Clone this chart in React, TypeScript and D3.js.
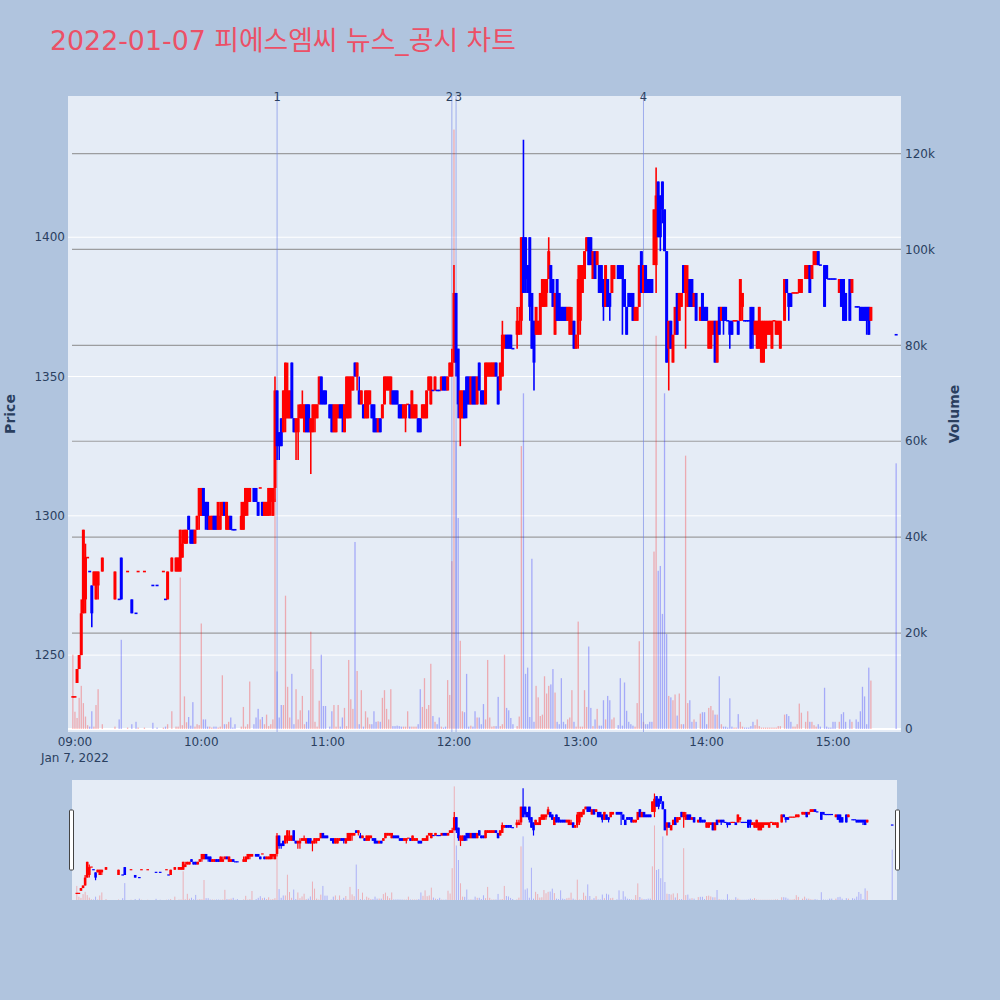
import React from 'react';
import * as d3 from 'd3';

// minute offsets from 09:00 (2022-01-07)
const minutes = [
  -1,0,1,2,3,4,5,6,7,8,9,10,11,13,19,21,22,25,27,29,30,33,37,39,42,43,44,46,48,49,
  50,51,52,53,54,55,56,57,58,59,60,61,62,63,64,65,66,67,68,69,70,71,72,73,74,75,76,79,80,81,
  82,83,85,86,87,88,89,90,91,92,93,94,
  95,96,97,98,99,100,101,102,103,104,105,106,107,108,109,110,111,112,113,114,115,116,117,118,119,
  121,122,123,124,125,126,127,128,129,130,131,132,133,134,135,136,137,138,139,140,
  141,142,143,144,145,146,147,148,149,150,151,152,153,154,155,156,157,158,159,160,
  161,162,163,164,165,166,167,168,169,170,171,172,173,174,175,176,177,178,179,180,
  181,182,183,184,185,186,187,188,189,190,191,192,193,194,195,196,197,198,199,200,
  201,202,203,204,205,206,207,208,
  210,211,212,213,214,215,216,217,218,219,220,221,222,223,224,225,226,227,228,229,
  230,231,232,233,234,235,236,237,238,239,240,241,242,243,244,245,246,247,248,249,
  250,251,252,253,254,255,256,
  258,259,260,261,262,263,264,265,266,267,268,269,270,271,272,273,274,275,276,277,
  278,279,280,281,282,283,284,285,286,287,288,289,290,291,292,293,294,295,
  297,298,299,300,301,302,303,304,305,306,307,308,309,310,311,312,313,314,315,316,
  317,318,319,320,321,322,323,324,325,326,327,328,329,330,331,332,333,334,335,
  337,338,339,340,341,342,343,344,345,
  347,348,349,350,351,352,353,354,
  356,357,358,359,360,361,
  363,364,365,366,
  368,369,
  371,372,373,374,375,376,377,378,
  390,
];

const opens = [
  1235,1235,1240,1245,1250,1265,1270,1285,1280,1275,1275,1270,1275,1280,1270,1270,1285,1280,1270,1265,
  1280,1280,1275,1275,1280,1270,1270,1280,1280,1280,1280,1285,1290,1290,1300,1295,1295,1290,1295,1300,
  1300,1310,1305,1305,1295,1295,1300,1300,1295,1295,1300,1305,1295,1295,1300,1295,1295,1295,1295,1300,
  1305,1305,1310,1310,1305,1310,1305,1300,1300,1300,1305,1300,
  1310,1345,1330,1335,1330,1335,1335,1335,1355,1335,1330,1330,1335,1335,1330,1340,1340,1330,1330,1335,
  1335,1340,1350,1345,1345,
  1340,1340,1330,1330,1335,1340,1340,1330,1335,1335,1345,1345,1355,1350,1345,1340,1340,1335,1335,1340,
  1340,1340,1335,1330,1335,1335,1340,1345,1345,1340,1345,1345,1345,1340,1340,1335,1335,1340,1340,1335,
  1335,1335,1335,1335,1335,1335,1335,1345,1340,1345,1345,1345,1345,1345,1350,1350,1345,1350,1350,1355,
  1380,1360,1335,1335,1345,1350,1350,1340,1350,1350,1340,1355,1345,1345,1340,1350,1350,1350,1350,1355,
  1350,1345,1350,1360,1365,1365,1365,1360,
  1365,1365,1370,1400,1400,1390,1400,1380,1370,1365,1365,1365,1375,1375,1380,1385,1390,1385,1365,1385,
  1380,1375,1375,1375,1370,1365,1365,1370,1360,1365,1370,1380,1385,1395,1400,1400,1385,1395,1390,1390,
  1390,1385,1375,1385,1380,1380,1385,
  1390,1390,1390,1385,1375,1380,1380,1380,1370,1370,1375,1395,1380,1390,1385,1385,1385,1390,1390,1420,
  1415,1420,1410,1395,1360,1370,1355,1365,1380,1370,1375,1390,1380,1375,1385,1385,1375,1380,
  1370,1380,1375,1375,1360,1360,1365,1370,1355,1375,1370,1375,1375,1370,1370,1370,1370,1370,1370,1370,
  1375,1370,1370,1370,1375,1375,1365,1360,1360,1355,1355,1360,1365,1365,1360,1370,1365,1365,1360,
  1370,1385,1380,1380,1380,1380,1380,1380,1380,
  1385,1385,1390,1385,1390,1390,1395,1390,
  1390,1390,1385,1385,1385,1385,
  1380,1385,1385,1380,
  1385,1380,
  1375,1375,1375,1375,1375,1375,1375,1370,
  1365,
];

const highs = [
  1235,1235,1245,1250,1270,1295,1290,1285,1280,1275,1280,1280,1280,1285,1280,1270,1285,1280,1270,1265,
  1280,1280,1275,1275,1280,1270,1280,1285,1285,1285,1295,1295,1295,1295,1300,1295,1295,1295,1300,1310,
  1310,1310,1305,1305,1300,1300,1300,1300,1305,1305,1305,1305,1305,1300,1300,1295,1295,1305,1305,1310,
  1310,1310,1310,1310,1305,1310,1305,1305,1305,1310,1310,1310,
  1350,1345,1330,1335,1345,1355,1355,1345,1355,1335,1335,1340,1340,1345,1340,1340,1340,1335,1340,1340,
  1340,1350,1350,1345,1345,
  1340,1340,1340,1340,1340,1340,1340,1340,1350,1350,1350,1350,1355,1355,1350,1345,1340,1345,1345,1345,
  1340,1340,1335,1335,1335,1340,1350,1350,1350,1350,1345,1345,1345,1340,1340,1340,1340,1340,1340,1345,
  1340,1340,1335,1335,1340,1340,1345,1350,1350,1345,1350,1345,1345,1350,1350,1350,1350,1355,1360,1390,
  1380,1360,1345,1345,1345,1350,1350,1350,1350,1350,1350,1355,1345,1345,1355,1355,1355,1355,1355,1355,
  1350,1355,1370,1365,1365,1365,1365,1360,
  1375,1375,1400,1435,1400,1390,1400,1380,1370,1375,1370,1380,1385,1385,1385,1400,1390,1385,1380,1385,
  1380,1375,1375,1375,1375,1375,1375,1370,1365,1390,1390,1390,1395,1400,1400,1400,1395,1395,1395,1390,
  1390,1385,1390,1385,1380,1390,1390,
  1390,1390,1390,1385,1375,1380,1380,1380,1375,1375,1390,1395,1390,1390,1385,1385,1385,1410,1425,1420,
  1415,1420,1410,1395,1370,1370,1365,1375,1380,1380,1380,1390,1390,1390,1385,1385,1380,1380,
  1375,1380,1375,1375,1370,1370,1370,1370,1370,1375,1375,1375,1375,1370,1370,1370,1370,1370,1370,1385,
  1380,1370,1370,1370,1375,1375,1370,1370,1375,1370,1370,1370,1370,1370,1370,1370,1370,1370,1370,
  1385,1385,1380,1380,1380,1380,1380,1385,1385,
  1390,1390,1390,1390,1395,1395,1395,1390,
  1390,1390,1385,1385,1385,1385,
  1385,1385,1385,1380,
  1385,1385,
  1375,1375,1375,1375,1375,1375,1375,1375,
  1365,
];

const lows = [
  1235,1235,1240,1245,1250,1265,1265,1285,1280,1260,1275,1270,1270,1280,1270,1270,1270,1280,1265,1265,
  1280,1280,1275,1275,1280,1270,1270,1280,1280,1280,1280,1285,1290,1290,1295,1290,1290,1290,1295,1295,
  1300,1300,1295,1295,1295,1295,1295,1295,1295,1295,1300,1300,1295,1295,1295,1295,1295,1295,1295,1300,
  1300,1305,1305,1305,1300,1310,1300,1300,1300,1300,1300,1300,
  1305,1320,1320,1325,1330,1330,1335,1335,1335,1330,1320,1320,1335,1335,1330,1330,1330,1315,1330,1330,
  1335,1340,1340,1340,1340,
  1335,1330,1330,1330,1335,1335,1330,1330,1335,1335,1335,1345,1350,1345,1340,1340,1335,1335,1335,1340,
  1335,1330,1330,1330,1330,1335,1340,1345,1345,1340,1340,1340,1340,1335,1335,1335,1330,1340,1335,1335,
  1335,1335,1330,1330,1335,1335,1335,1345,1340,1345,1345,1345,1345,1345,1345,1345,1345,1350,1350,1355,
  1350,1335,1325,1335,1335,1335,1340,1340,1340,1340,1340,1345,1340,1340,1340,1350,1350,1350,1350,1350,
  1340,1345,1350,1360,1360,1360,1360,1360,
  1360,1365,1365,1380,1380,1380,1370,1360,1345,1365,1365,1365,1375,1375,1375,1385,1380,1375,1365,1370,
  1370,1370,1370,1370,1370,1365,1365,1360,1360,1360,1365,1380,1385,1395,1390,1390,1385,1385,1390,1380,
  1380,1370,1375,1375,1370,1380,1385,
  1385,1385,1365,1375,1365,1375,1375,1370,1370,1370,1375,1380,1380,1380,1380,1380,1380,1390,1380,1400,
  1395,1405,1395,1355,1345,1360,1355,1365,1365,1370,1375,1380,1360,1375,1375,1375,1375,1370,
  1370,1370,1370,1370,1360,1360,1365,1355,1355,1365,1370,1365,1370,1370,1360,1365,1370,1370,1365,1370,
  1370,1370,1370,1370,1360,1360,1365,1360,1360,1355,1355,1360,1365,1365,1360,1370,1365,1365,1360,
  1370,1380,1370,1375,1380,1380,1380,1380,1380,
  1385,1385,1380,1385,1390,1390,1390,1390,
  1375,1385,1385,1385,1385,1385,
  1380,1375,1370,1370,
  1370,1380,
  1375,1375,1370,1370,1370,1365,1365,1370,
  1365,
];

const closes = [
  1235,1235,1245,1250,1265,1295,1285,1285,1280,1265,1280,1280,1280,1285,1280,1270,1270,1280,1265,1265,
  1280,1280,1275,1275,1280,1270,1280,1285,1285,1285,1295,1290,1295,1295,1295,1290,1290,1295,1300,1310,
  1310,1300,1300,1295,1300,1300,1295,1295,1305,1300,1305,1300,1305,1300,1295,1295,1295,1300,1305,1310,
  1310,1310,1305,1305,1300,1310,1300,1305,1305,1310,1310,1310,
  1345,1325,1325,1325,1345,1355,1345,1345,1335,1330,1335,1335,1340,1340,1340,1330,1330,1335,1340,1340,
  1340,1350,1340,1340,1340,
  1335,1330,1340,1340,1340,1335,1335,1340,1350,1350,1350,1350,1350,1355,1340,1345,1335,1345,1345,1345,
  1335,1330,1330,1335,1330,1340,1350,1350,1350,1350,1340,1340,1340,1335,1335,1340,1340,1340,1335,1345,
  1340,1340,1330,1330,1340,1340,1345,1350,1350,1345,1350,1345,1345,1350,1345,1345,1350,1355,1355,1380,
  1355,1340,1345,1345,1335,1340,1340,1350,1340,1340,1350,1345,1340,1340,1355,1355,1355,1355,1355,1350,
  1340,1355,1365,1365,1360,1360,1360,1360,
  1370,1370,1400,1380,1385,1380,1375,1360,1355,1375,1370,1380,1385,1385,1385,1395,1380,1375,1380,1370,
  1370,1370,1370,1370,1375,1375,1370,1360,1365,1385,1390,1390,1395,1400,1390,1390,1395,1385,1395,1380,
  1380,1375,1390,1375,1375,1390,1390,
  1385,1385,1385,1375,1365,1375,1375,1370,1375,1375,1390,1380,1390,1380,1380,1380,1380,1410,1415,1400,
  1400,1410,1395,1355,1370,1360,1365,1375,1365,1380,1380,1380,1390,1385,1375,1375,1380,1370,
  1375,1370,1370,1370,1370,1370,1370,1355,1370,1365,1375,1370,1370,1370,1365,1365,1370,1370,1365,1385,
  1380,1370,1370,1370,1360,1365,1370,1370,1375,1370,1370,1370,1370,1370,1370,1370,1370,1370,1370,
  1385,1380,1375,1375,1380,1380,1380,1385,1385,
  1390,1390,1380,1390,1395,1395,1390,1390,
  1375,1385,1385,1385,1385,1385,
  1385,1375,1370,1370,
  1370,1385,
  1375,1375,1370,1370,1370,1370,1365,1375,
  1365,
];

const volumes = [
  15500,3600,2300,6500,9000,5400,2600,800,500,3700,500,5000,8300,1000,500,2000,18600,300,1000,1500,
  300,300,1300,300,300,500,1000,3700,500,500,31600,800,6800,1400,2500,700,5600,500,1000,800,
  22000,2000,2000,500,500,300,500,500,300,500,11200,1000,1000,1500,2400,300,1000,500,4600,500,
  1000,9900,1000,2400,4200,2000,2500,1000,3000,600,1000,2000,
  48000,12000,2400,5000,5000,27800,8800,2400,11500,1000,8300,2000,3900,6900,1000,1500,3900,20300,12500,1500,
  500,5900,15500,4800,4800,
  500,3700,5000,500,5000,500,2400,4400,600,14400,6200,4200,39000,12100,1000,8100,500,3700,2400,1000,
  1000,3700,1500,1600,1500,6500,8100,4200,2000,8300,600,600,700,600,500,500,500,3700,500,500,
  500,500,1000,8300,4600,10600,4200,5000,13600,2700,1500,1000,2400,500,300,500,10200,7100,35000,125000,
  60000,44000,18400,3700,3500,11500,500,700,500,3700,2400,2400,1000,5200,2000,14400,2400,500,600,600,
  6700,600,1000,15500,4400,3900,2300,1000,
  600,2600,59000,70000,11500,12800,2500,35500,1500,9000,6600,2700,3000,11000,7400,9000,9300,12500,7600,1500,
  1000,10600,1500,1000,2000,2400,8100,1500,500,22400,500,500,8100,4600,17200,4400,600,2000,4200,700,
  700,6000,2000,6900,6000,2000,2400,
  800,10600,700,9700,3800,1500,1000,700,500,5400,18300,3300,1500,1000,1000,1500,1500,37000,82000,33000,
  34000,24000,70000,19800,6900,6600,6000,7200,2800,7400,1000,1000,57000,5400,6000,1500,2000,1500,
  3200,3500,3500,1000,4400,4800,3900,3000,3000,11000,1000,500,500,300,6400,500,300,300,3100,1500,
  500,300,300,300,600,1500,800,2000,600,300,300,300,300,300,300,300,300,600,600,
  3000,3100,2700,1500,500,500,1000,5300,3400,
  1500,3700,1500,1500,800,500,1000,500,
  8600,500,300,300,1500,1500,
  1500,3100,3500,1500,
  2000,1500,
  2000,1500,3700,8800,6800,1000,12800,10100,
  55400,
];

const priceTicks = [1250, 1300, 1350, 1400];
const volumeTicks = [0, 20000, 40000, 60000, 80000, 100000, 120000];
const timeTickMinutes = [0, 60, 120, 180, 240, 300, 360];
const newsMinutes = [96, 179, 181, 270];
const newsLabels = ['1', '2', '3', '4'];
const titleText = '2022-01-07 피에스엠씨 뉴스_공시 차트';
const dateLabel = 'Jan 7, 2022';

const BASE = new Date(2022, 0, 7, 9, 0, 0).getTime();
const toDate = (m: number) => new Date(BASE + m * 60000);

const UP = '#ff0000';
const DOWN = '#0000ff';
const FONT = '"DejaVu Sans", Verdana, "Noto Sans CJK KR", sans-serif';
const AXIS_COLOR = '#2a3f5f';

// plotly-style direction: compare close/open, fall back to previous close
function directions(): boolean[] {
  const out: boolean[] = [];
  let prevDir = true;
  for (let i = 0; i < closes.length; i++) {
    const o = opens[i], c = closes[i];
    const pc = i > 0 ? closes[i - 1] : c;
    let d: boolean;
    if (c > o) d = true;
    else if (c < o) d = false;
    else if (c > pc) d = true;
    else if (c < pc) d = false;
    else d = prevDir;
    out.push(d);
    prevDir = d;
  }
  return out;
}

export default function App() {
  const L = 68, R = 901, T = 96, B = 732;
  const domain = [toDate(-3.3), toDate(392.3)];
  const x = d3.scaleTime().domain(domain).range([L, R]);
  const yP = d3.scaleLinear().domain([1222.4, 1450.7]).range([B, T]);
  const yV = d3.scaleLinear().domain([0, 132000]).range([729, T]);

  const SL = 72, SR = 897, ST = 780, SB = 900;
  const xs = d3.scaleTime().domain(domain).range([SL, SR]);
  const ysP = d3.scaleLinear().domain([1222.4, 1450.7]).range([SB, ST]);
  const ysV = d3.scaleLinear().domain([0, 132000]).range([SB, ST]);

  const dirs = directions();
  const fmt = d3.timeFormat('%H:%M');
  const idx = d3.range(minutes.length);

  // news label positions: nudge apart labels whose lines are very close
  const newsX = newsMinutes.map(m => x(toDate(m)));
  const labelX = newsX.map((v, k) => {
    const prevClose = k > 0 && v - newsX[k - 1] < 8;
    const nextClose = k < newsX.length - 1 && newsX[k + 1] - v < 8;
    if (nextClose) return { x: v + 1.2, anchor: 'end' };
    if (prevClose) return { x: v - 1.2, anchor: 'start' };
    return { x: v, anchor: 'middle' };
  });

  return (
    <div style={{ position: 'absolute', left: 0, top: 0 }}>
      <svg width={1000} height={1000} style={{ display: 'block', background: '#b0c4de' }}>
        <defs>
          <clipPath id="plotclip"><rect x={L} y={T} width={R - L} height={B - T} /></clipPath>
          <clipPath id="sliderclip"><rect x={SL} y={ST} width={SR - SL} height={SB - ST} /></clipPath>
        </defs>
        <rect x={0} y={0} width={1000} height={1000} fill="#b0c4de" />
        <text x={50} y={50} fontFamily={FONT} fontSize={26.8} fill="rgb(236,80,102)">{titleText}</text>

        {/* plot area */}
        <rect x={L} y={T} width={R - L} height={B - T} fill="#e5ecf6" />
        {priceTicks.map(p => (
          <line key={'pg' + p} x1={L} x2={R} y1={yP(p)} y2={yP(p)} stroke="#ffffff" strokeWidth={1} />
        ))}
        {volumeTicks.filter(v => v > 0).map(v => (
          <line key={'vg' + v} x1={L + 4} x2={R} y1={yV(v)} y2={yV(v)} stroke="#8f8f8f" strokeOpacity={0.85} strokeWidth={1.2} />
        ))}
        <line x1={L} x2={R} y1={yV(0)} y2={yV(0)} stroke="#ffffff" strokeWidth={2} />

        <g clipPath="url(#plotclip)">
          {idx.map(i => (
            <rect key={'v' + i} x={x(toDate(minutes[i])) - 0.65} width={1.3}
              y={yV(volumes[i])} height={Math.max(0, yV(0) - yV(volumes[i]))}
              fill={dirs[i] ? UP : DOWN} fillOpacity={0.28} />
          ))}
          {newsX.map((nx, k) => (
            <line key={'n' + k} x1={nx} x2={nx} y1={T} y2={B}
              stroke="rgb(110,130,230)" strokeOpacity={0.6} strokeWidth={1} />
          ))}
          {idx.map(i => {
            const cx = x(toDate(minutes[i]));
            const col = dirs[i] ? UP : DOWN;
            const top = yP(Math.max(opens[i], closes[i]));
            const bot = yP(Math.min(opens[i], closes[i]));
            const hgt = Math.max(bot - top, 1.6);
            return (
              <g key={'c' + i}>
                <line x1={cx} x2={cx} y1={yP(highs[i])} y2={yP(lows[i])} stroke={col} strokeWidth={1.6} />
                <rect x={cx - 1.5} width={3} y={top - (hgt - (bot - top)) / 2} height={hgt} fill={col} />
              </g>
            );
          })}
        </g>

        {labelX.map((lx, k) => (
          <text key={'nl' + k} x={lx.x} y={101} textAnchor={lx.anchor} fontFamily={FONT}
            fontSize={11.5} fill={AXIS_COLOR}>{newsLabels[k]}</text>
        ))}

        {/* axes */}
        {priceTicks.map(p => (
          <text key={'pt' + p} x={65} y={yP(p)} dy="0.35em" textAnchor="end" fontFamily={FONT}
            fontSize={12} fill={AXIS_COLOR}>{p}</text>
        ))}
        {volumeTicks.map(v => (
          <text key={'vt' + v} x={905} y={yV(v)} dy="0.35em" textAnchor="start" fontFamily={FONT}
            fontSize={12} fill={AXIS_COLOR}>{v === 0 ? '0' : `${v / 1000}k`}</text>
        ))}
        {timeTickMinutes.map(m => (
          <text key={'tt' + m} x={x(toDate(m))} y={746} textAnchor="middle" fontFamily={FONT}
            fontSize={12} fill={AXIS_COLOR}>{fmt(toDate(m))}</text>
        ))}
        <text x={x(toDate(timeTickMinutes[0]))} y={762} textAnchor="middle" fontFamily={FONT}
          fontSize={12} fill={AXIS_COLOR}>{dateLabel}</text>
        <text transform={`translate(15,${(T + B) / 2}) rotate(-90)`} textAnchor="middle" fontFamily={FONT}
          fontSize={14} fontWeight="bold" fill={AXIS_COLOR}>Price</text>
        <text transform={`translate(959,${(T + B) / 2}) rotate(-90)`} textAnchor="middle" fontFamily={FONT}
          fontSize={14} fontWeight="bold" fill={AXIS_COLOR}>Volume</text>

        {/* range slider */}
        <rect x={SL} y={ST} width={SR - SL} height={SB - ST} fill="#e5ecf6" />
        <g clipPath="url(#sliderclip)">
          {idx.map(i => (
            <rect key={'sv' + i} x={xs(toDate(minutes[i])) - 0.5} width={1}
              y={ysV(volumes[i])} height={Math.max(0, ysV(0) - ysV(volumes[i]))}
              fill={dirs[i] ? UP : DOWN} fillOpacity={0.25} />
          ))}
          {idx.map(i => {
            const cx = xs(toDate(minutes[i]));
            const col = dirs[i] ? UP : DOWN;
            const top = ysP(Math.max(opens[i], closes[i]));
            const bot = ysP(Math.min(opens[i], closes[i]));
            const hgt = Math.max(bot - top, 1.2);
            return (
              <g key={'sc' + i}>
                <line x1={cx} x2={cx} y1={ysP(highs[i])} y2={ysP(lows[i])} stroke={col} strokeWidth={1.2} />
                <rect x={cx - 1.3} width={2.6} y={top - (hgt - (bot - top)) / 2} height={hgt} fill={col} />
              </g>
            );
          })}
        </g>
        <rect x={69.5} y={810} width={4} height={60} fill="#ffffff" stroke="#444" strokeWidth={1} rx={1} />
        <rect x={895.5} y={810} width={4} height={60} fill="#ffffff" stroke="#444" strokeWidth={1} rx={1} />
      </svg>
    </div>
  );
}
